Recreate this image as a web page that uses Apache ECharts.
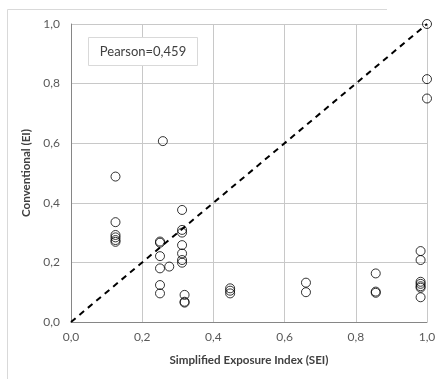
<!DOCTYPE html>
<html><head><meta charset="utf-8">
<script src="https://cdn.jsdelivr.net/npm/echarts@6/dist/echarts.min.js"></script>
<style>html,body{margin:0;padding:0;background:#fff}#c{width:447px;height:379px}</style>
</head><body><div id="c"></div>
<script>
var xTicks = [0, 0.2, 0.4, 0.6, 0.8, 1.0];
var yTicks = [0, 0.2, 0.4, 0.6, 0.8, 1.0];
var seiValues = [0.125,0.125,0.125,0.125,0.125,0.125,
  0.258,
  0.25,0.25,0.25,0.25,0.25,0.25,
  0.276,
  0.312,0.312,0.312,0.312,0.312,0.312,0.312,
  0.319,0.319,0.319,
  0.447,0.447,0.447,
  0.66,0.66,
  0.856,0.856,0.856,
  0.982,0.982,0.982,0.982,0.982,0.982,0.982,
  1.0,1.0,1.0];
var eiValues = [0.488,0.335,0.292,0.284,0.275,0.269,
  0.607,
  0.270,0.266,0.221,0.180,0.124,0.096,
  0.186,
  0.376,0.309,0.300,0.258,0.230,0.208,0.199,
  0.091,0.068,0.065,
  0.113,0.105,0.096,
  0.132,0.100,
  0.163,0.102,0.098,
  0.238,0.208,0.135,0.128,0.120,0.115,0.083,
  1.0,0.815,0.75];
var diagonal = [[0,0],[1,1]];
var pearsonText = 'Pearson=0,459';
var xName = 'Simplified Exposure Index (SEI)';
var yName = 'Conventional (EI)';

var pts = seiValues.map(function(x,i){return [x, eiValues[i]];});
var fmt = function(v){return v.toFixed(1).replace('.', ',');};
var font = 'Lato, "Liberation Sans", sans-serif';
var chart = echarts.init(document.getElementById('c'));
chart.setOption({
  animation: false,
  grid: {left: 71, right: 20, top: 24, bottom: 57},
  xAxis: {
    type: 'value', min: 0, max: 1, interval: 0.2,
    name: xName, nameLocation: 'middle', nameGap: 32,
    nameTextStyle: {fontFamily: font, fontSize: 11.6, fontWeight: 'bold', color: '#404040'},
    axisLine: {show: true, lineStyle: {color: '#868686'}},
    axisTick: {show: false},
    axisLabel: {formatter: fmt, fontFamily: font, fontSize: 12, color: '#595959', margin: 9},
    splitLine: {show: true, lineStyle: {color: '#c8c8c8', width: 1}}
  },
  yAxis: {
    type: 'value', min: 0, max: 1, interval: 0.2,
    name: yName, nameLocation: 'middle', nameGap: 38, nameRotate: 90,
    nameTextStyle: {fontFamily: font, fontSize: 11.6, fontWeight: 'bold', color: '#404040'},
    axisLine: {show: true, lineStyle: {color: '#868686'}},
    axisTick: {show: false},
    axisLabel: {formatter: fmt, fontFamily: font, fontSize: 12, color: '#595959', margin: 11},
    splitLine: {show: true, lineStyle: {color: '#c8c8c8', width: 1}}
  },
  series: [
    {type: 'line', data: diagonal, showSymbol: false, symbol: 'none',
     lineStyle: {color: '#000', width: 2, type: [6, 5]}, z: 3},
    {type: 'scatter', data: pts, symbol: 'circle', symbolSize: 9,
     itemStyle: {color: 'rgba(255,255,255,0)', borderColor: '#000', borderWidth: 1}, z: 4}
  ],
  graphic: [
    {type: 'line', shape: {x1: 7.5, y1: 9.5, x2: 387, y2: 9.5}, style: {stroke: '#d9d9d9', lineWidth: 1}},
    {type: 'line', shape: {x1: 7.5, y1: 9.5, x2: 7.5, y2: 379}, style: {stroke: '#d9d9d9', lineWidth: 1}},
    {type: 'rect', shape: {x: 88.5, y: 37.5, width: 109, height: 28}, style: {fill: '#fff', stroke: '#d9d9d9', lineWidth: 1}, z: 10},
    {type: 'text', x: 143, y: 51.5, z: 11, style: {text: pearsonText, fontFamily: font, fontSize: 13, fill: '#404040', align: 'center', verticalAlign: 'middle'}}
  ]
});
</script></body></html>
